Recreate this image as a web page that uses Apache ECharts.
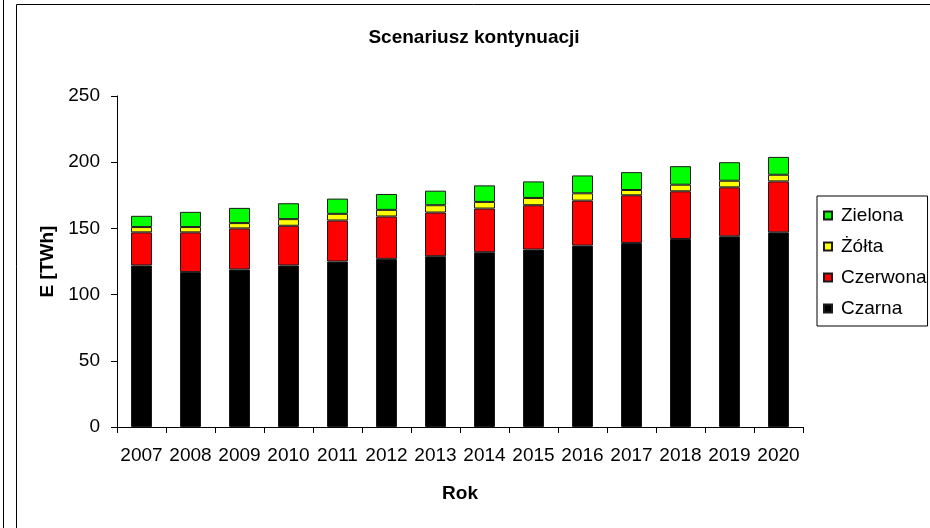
<!DOCTYPE html>
<html>
<head>
<meta charset="utf-8">
<script src="https://cdn.jsdelivr.net/npm/echarts@6/dist/echarts.min.js"></script>
<style>
html,body{margin:0;padding:0;background:#fff;}
#c{width:930px;height:528px;}
</style>
</head>
<body>
<div id="c"></div>
<script>
var years = ['2007','2008','2009','2010','2011','2012','2013','2014','2015','2016','2017','2018','2019','2020'];
var czarna = [122,117,119,122,125,127,129,132,134,137,139,142,144,147];
var czerwona = [25,30,31,30,31,32,33,33,33.5,34,36,36,37,38.5];
var zolta = [4,4,4,5,5,5,5.5,5,5.5,5.5,4,5,5,5];
var zielona = [8.5,11.5,11.5,12,11.5,12,11,12.5,12.5,13.5,13.5,14,14,13.5];
var yTicks = [0,50,100,150,200,250];

var FONT = "'Liberation Sans', Arial, sans-serif";
var chart = echarts.init(document.getElementById('c'), null, {renderer:'canvas'});

function bar(name, data, color){
  return {
    name: name, type: 'bar', stack: 'total', data: data, barWidth: 21,
    itemStyle: {color: color, borderColor: '#1a1a1a', borderWidth: 1},
    emphasis: {disabled: true}
  };
}

chart.setOption({
  animation: false,
  backgroundColor: '#fff',
  textStyle: {fontFamily: FONT},
  title: {
    text: 'Scenariusz kontynuacji', left: 474, top: 28, textAlign: 'center', padding: 0,
    textStyle: {fontFamily: FONT, fontSize: 19, fontWeight: 'bold', color: '#000'}
  },
  legend: {
    orient: 'vertical', left: 817, top: 196,
    data: ['Zielona','Żółta','Czerwona','Czarna'],
    borderColor: '#000', borderWidth: 1, padding: [10, 1, 8, 6],
    itemWidth: 8, itemHeight: 8, itemGap: 12, icon: 'rect',
    textStyle: {fontFamily: FONT, fontSize: 19, color: '#000', padding: [0,0,0,4]}
  },
  graphic: [
    {type:'rect', shape:{x:16.5, y:4.5, width:1000, height:1000}, style:{fill:'none', stroke:'#000', lineWidth:1}, silent:true},
    {type:'line', shape:{x1:3.5, y1:0, x2:3.5, y2:528}, style:{stroke:'#000', lineWidth:1}, silent:true}
  ],
  grid: {left: 117, top: 96, width: 686, height: 331, containLabel: false},
  xAxis: {
    type: 'category', data: years, boundaryGap: true,
    name: 'Rok', nameLocation: 'middle', nameGap: 57,
    nameTextStyle: {fontFamily: FONT, fontSize: 19, fontWeight: 'bold', color: '#000'},
    axisLine: {lineStyle: {color: '#000', width: 1}},
    axisTick: {show: true, alignWithLabel: false, length: 6, lineStyle: {color: '#000'}},
    axisLabel: {fontFamily: FONT, fontSize: 19, color: '#000', margin: 19, interval: 0},
    splitLine: {show: false}
  },
  yAxis: {
    type: 'value', min: yTicks[0], max: yTicks[yTicks.length-1], interval: 50,
    name: 'E [TWh]', nameLocation: 'middle', nameGap: 60, nameRotate: 90,
    nameTextStyle: {fontFamily: FONT, fontSize: 19, fontWeight: 'bold', color: '#000'},
    axisLine: {show: true, lineStyle: {color: '#000', width: 1}},
    axisTick: {show: true, length: 6, lineStyle: {color: '#000'}},
    axisLabel: {fontFamily: FONT, fontSize: 19, color: '#000', margin: 17},
    splitLine: {show: false}
  },
  series: [
    bar('Czarna', czarna, '#000000'),
    bar('Czerwona', czerwona, '#ff0000'),
    bar('Żółta', zolta, '#ffff00'),
    bar('Zielona', zielona, '#00ff00')
  ]
});
</script>
</body>
</html>
